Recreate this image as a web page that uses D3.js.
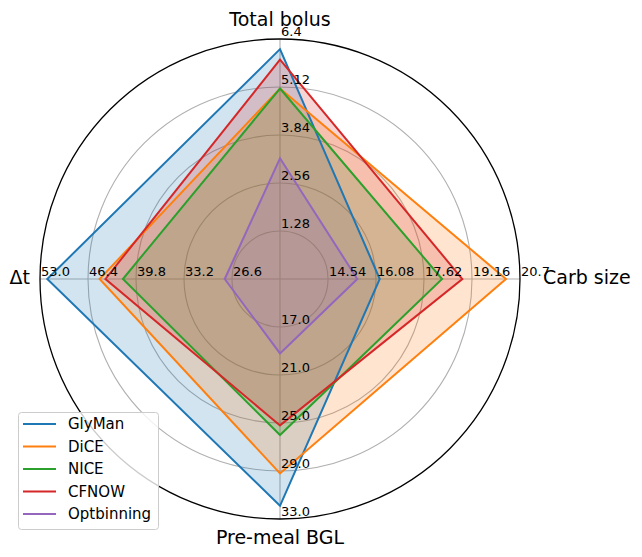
<!DOCTYPE html>
<html><head><meta charset="utf-8">
<script src="https://cdn.jsdelivr.net/npm/d3@7"></script>
<style>body{margin:0;background:#fff}svg{display:block;font-family:"DejaVu Sans",sans-serif}</style>
</head><body><svg id="c" width="642" height="557"></svg>
<script>
const axesNames = ["Total bolus", "Carb size", "Pre-meal BGL", "Δt"];
const axisMin = [0, 13.0, 13.0, 20.0];
const axisMax = [6.4, 20.7, 33.0, 53.0];
const tickLabels = [
  ["1.28", "2.56", "3.84", "5.12", "6.4"],
  ["14.54", "16.08", "17.62", "19.16", "20.7"],
  ["17.0", "21.0", "25.0", "29.0", "33.0"],
  ["26.6", "33.2", "39.8", "46.4", "53.0"]
];
const seriesNames = ["GlyMan", "DiCE", "NICE", "CFNOW", "Optbinning"];
const colors = ["#1f77b4", "#ff7f0e", "#2ca02c", "#d62728", "#9467bd"];
const glyman = [6.13, 16.2, 31.9, 52.0];
const dice = [5.08, 20.25, 29.2, 44.8];
const nice = [5.08, 18.2, 26.0, 41.6];
const cfnow = [5.85, 18.85, 25.2, 44.0];
const optbinning = [3.22, 15.48, 19.2, 27.6];
const seriesValues = [glyman, dice, nice, cfnow, optbinning];

const svg = d3.select("#c");
const cx = 280, cy = 279, R = 240;
const angles = [0, Math.PI / 2, Math.PI, 3 * Math.PI / 2];
const scales = axisMin.map((m, i) => d3.scaleLinear().domain([m, axisMax[i]]).range([0, R]));
const rings = d3.scaleLinear().domain([0, 5]).range([0, R]);
const pt = (a, r) => [cx + r * Math.sin(a), cy - r * Math.cos(a)];

const g = svg.append("g");
g.selectAll("circle.grid").data(d3.range(1, 5)).join("circle")
  .attr("cx", cx).attr("cy", cy).attr("r", d => rings(d))
  .attr("fill", "none").attr("stroke", "#b0b0b0").attr("stroke-width", 1.1);
g.selectAll("line.rad").data(angles).join("line")
  .attr("x1", cx).attr("y1", cy)
  .attr("x2", a => pt(a, R)[0]).attr("y2", a => pt(a, R)[1])
  .attr("stroke", "#b0b0b0").attr("stroke-width", 1.1);

const line = d3.line();
const polys = seriesValues.map(vals => vals.map((v, i) => pt(angles[i], scales[i](v))));
g.selectAll("path.fill").data(polys).join("path")
  .attr("d", p => line(p) + "Z")
  .attr("fill", (d, i) => colors[i]).attr("fill-opacity", 0.2).attr("stroke", "none");
g.selectAll("path.ln").data(polys).join("path")
  .attr("d", p => line(p) + "Z")
  .attr("fill", "none").attr("stroke", (d, i) => colors[i]).attr("stroke-width", 2)
  .attr("stroke-linejoin", "miter");

g.append("circle").attr("cx", cx).attr("cy", cy).attr("r", R)
  .attr("fill", "none").attr("stroke", "#000").attr("stroke-width", 1.3);

tickLabels.forEach((labs, i) => {
  const ticks = d3.range(1, 6).map(k => axisMin[i] + (axisMax[i] - axisMin[i]) * k / 5);
  labs.forEach((t, k) => {
    const [x, y] = pt(angles[i], scales[i](ticks[k]));
    g.append("text").attr("x", x + 1).attr("y", y - 3)
      .attr("font-size", 13).attr("fill", "#000").text(t);
  });
});

const lab = [
  {x: 280, y: 26, a: "middle"},
  {x: 543, y: 284, a: "start"},
  {x: 280, y: 544, a: "middle"},
  {x: 30, y: 284, a: "end"}
];
axesNames.forEach((n, i) => {
  g.append("text").attr("x", lab[i].x).attr("y", lab[i].y).attr("text-anchor", lab[i].a)
    .attr("font-size", 19).attr("fill", "#000").text(n);
});

const lg = svg.append("g");
lg.append("rect").attr("x", 18.5).attr("y", 412.5).attr("width", 140).attr("height", 117).attr("rx", 3)
  .attr("fill", "#fff").attr("fill-opacity", 0.8).attr("stroke", "#ccc");
seriesNames.forEach((n, i) => {
  const y = 424 + i * 22.5;
  lg.append("line").attr("x1", 23).attr("x2", 56).attr("y1", y).attr("y2", y)
    .attr("stroke", colors[i]).attr("stroke-width", 2);
  lg.append("text").attr("x", 68).attr("y", y).attr("dy", "0.36em")
    .attr("font-size", 15).attr("fill", "#000").text(n);
});
</script></body></html>
